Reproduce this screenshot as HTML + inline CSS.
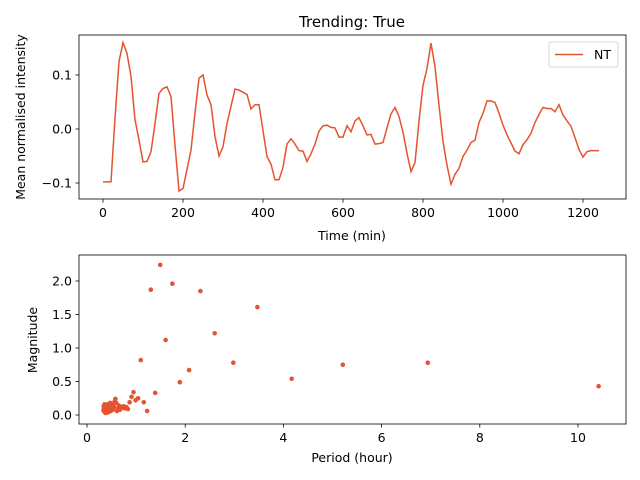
<!DOCTYPE html>
<html><head><meta charset="utf-8"><style>body{margin:0;background:#fff}svg{display:block;font-family:"DejaVu Sans","Liberation Sans",sans-serif}</style></head>
<body>
<svg id="c" width="640" height="480"></svg>
<script>
const times=[0,10,20,30,40,50,60,70,80,90,100,110,120,130,140,150,160,170,180,190,200,210,220,230,240,250,260,270,280,290,300,310,320,330,340,350,360,370,380,390,400,410,420,430,440,450,460,470,480,490,500,510,520,530,540,550,560,570,580,590,600,610,620,630,640,650,660,670,680,690,700,710,720,730,740,750,760,770,780,790,800,810,820,830,840,850,860,870,880,890,900,910,920,930,940,950,960,970,980,990,1000,1010,1020,1030,1040,1050,1060,1070,1080,1090,1100,1110,1120,1130,1140,1150,1160,1170,1180,1190,1200,1210,1220,1230,1240];
const intensity=[-0.098,-0.098,-0.098,0.02,0.125,0.16,0.14,0.097,0.017,-0.02,-0.061,-0.06,-0.042,0.01,0.066,0.075,0.078,0.06,-0.03,-0.115,-0.11,-0.075,-0.039,0.03,0.094,0.1,0.063,0.045,-0.014,-0.05,-0.033,0.01,0.042,0.074,0.072,0.068,0.064,0.037,0.045,0.045,-0.003,-0.051,-0.065,-0.094,-0.094,-0.071,-0.028,-0.018,-0.028,-0.04,-0.041,-0.06,-0.046,-0.028,-0.004,0.006,0.007,0.003,0.002,-0.015,-0.015,0.006,-0.005,0.015,0.021,0.006,-0.011,-0.01,-0.028,-0.027,-0.025,0.002,0.028,0.04,0.023,-0.006,-0.045,-0.079,-0.062,0.014,0.081,0.112,0.159,0.115,0.044,-0.023,-0.067,-0.102,-0.084,-0.073,-0.051,-0.039,-0.025,-0.021,0.012,0.029,0.052,0.052,0.049,0.029,0.007,-0.011,-0.026,-0.041,-0.046,-0.029,-0.02,-0.008,0.012,0.027,0.04,0.038,0.038,0.032,0.045,0.026,0.015,0.005,-0.016,-0.038,-0.052,-0.042,-0.04,-0.04,-0.04];
const periods=[10.42,6.94,5.21,4.17,3.47,2.98,2.60,2.31,2.08,1.89,1.74,1.60,1.49,1.39,1.30,1.225,1.157,1.096,1.04,0.99,0.947,0.906,0.868,0.833,0.80,0.77,0.744,0.718,0.694,0.672,0.651,0.631,0.613,0.595,0.579,0.563,0.548,0.534,0.521,0.508,0.496,0.484,0.473,0.463,0.453,0.443,0.434,0.425,0.417,0.408,0.401,0.393,0.386,0.379,0.372,0.365,0.359,0.353,0.347,0.341,0.336];
const magnitudes=[0.43,0.78,0.75,0.54,1.61,0.78,1.22,1.85,0.67,0.49,1.96,1.12,2.24,0.33,1.87,0.06,0.19,0.82,0.25,0.22,0.34,0.27,0.19,0.09,0.12,0.1,0.13,0.12,0.1,0.08,0.14,0.1,0.06,0.18,0.24,0.2,0.12,0.08,0.15,0.1,0.12,0.06,0.18,0.14,0.1,0.08,0.04,0.16,0.12,0.09,0.14,0.06,0.1,0.03,0.12,0.08,0.16,0.05,0.1,0.13,0.07];
const topXTicks=[0,200,400,600,800,1000,1200];
const topYTicks=[-0.1,0.0,0.1];
const botXTicks=[0,2,4,6,8,10];
const botYTicks=[0.0,0.5,1.0,1.5,2.0];
const C='#e5532f',NS='http://www.w3.org/2000/svg',svg=document.getElementById('c');
const FS=12.5;
function el(t,a,p){const e=document.createElementNS(NS,t);for(const k in a)e.setAttribute(k,a[k]);(p||svg).appendChild(e);return e;}
const tx=t=>103+0.4*t, ty=v=>129-540*v;
const bx=p=>87+49.1*p, by=m=>415-67*m;
const fmt=v=>v.toFixed(1).replace('-','\u2212');
function axes(x0,y0,x1,y1,xt,yt,fx,fy,fmtx,fmty,nm){
  const g=el('g',{});
  xt.forEach(v=>{const x=fx(v);el('line',{x1:x,x2:x,y1:y1,y2:y1+3.5,stroke:'#000','stroke-width':0.8},g);
    const t=el('text',{x:x,y:y1+18,'font-size':FS,'text-anchor':'middle'},g);t.textContent=fmtx(v);});
  yt.forEach(v=>{const y=fy(v);el('line',{x1:x0-3.5,x2:x0,y1:y,y2:y,stroke:'#000','stroke-width':0.8},g);
    const t=el('text',{x:x0-7,y:y+4.5,'font-size':FS,'text-anchor':'end'},g);t.textContent=fmty(v);});
  return g;
}
axes(79,35,626,199,topXTicks,topYTicks,tx,ty,v=>v,fmt,'top');
let d=times.map((t,i)=>(i?'L':'M')+tx(t).toFixed(1)+','+ty(intensity[i]).toFixed(1)).join('');
const ln=el('path',{d:d,fill:'none',stroke:C,'stroke-width':1.5});

el('rect',{x:79,y:35,width:547,height:164,fill:'none',stroke:'#000','stroke-width':0.8});
let t=el('text',{x:352,y:27,'font-size':15,'text-anchor':'middle'});t.textContent='Trending: True';
t=el('text',{x:352,y:240,'font-size':FS,'text-anchor':'middle'});t.textContent='Time (min)';
t=el('text',{x:0,y:0,'font-size':FS,'text-anchor':'middle',transform:'translate(25,117) rotate(-90)'});t.textContent='Mean normalised intensity';
const lg=el('g',{});
el('rect',{x:549,y:42,width:69,height:25,rx:2,fill:'#fff',stroke:'#ccc','stroke-width':0.8},lg);
el('line',{x1:555,x2:583,y1:54.5,y2:54.5,stroke:C,'stroke-width':1.5},lg);
t=el('text',{x:594,y:59,'font-size':FS},lg);t.textContent='NT';
axes(79,255,626,424,botXTicks,botYTicks,bx,by,v=>v,fmt,'bottom');
periods.forEach((p,i)=>{const c=el('circle',{cx:bx(p).toFixed(1),cy:by(magnitudes[i]).toFixed(1),r:2.3,fill:C});

});
el('rect',{x:79,y:255,width:547,height:169,fill:'none',stroke:'#000','stroke-width':0.8});
t=el('text',{x:352,y:462,'font-size':FS,'text-anchor':'middle'});t.textContent='Period (hour)';
t=el('text',{x:0,y:0,'font-size':FS,'text-anchor':'middle',transform:'translate(37,340) rotate(-90)'});t.textContent='Magnitude';
</script>
</body></html>
